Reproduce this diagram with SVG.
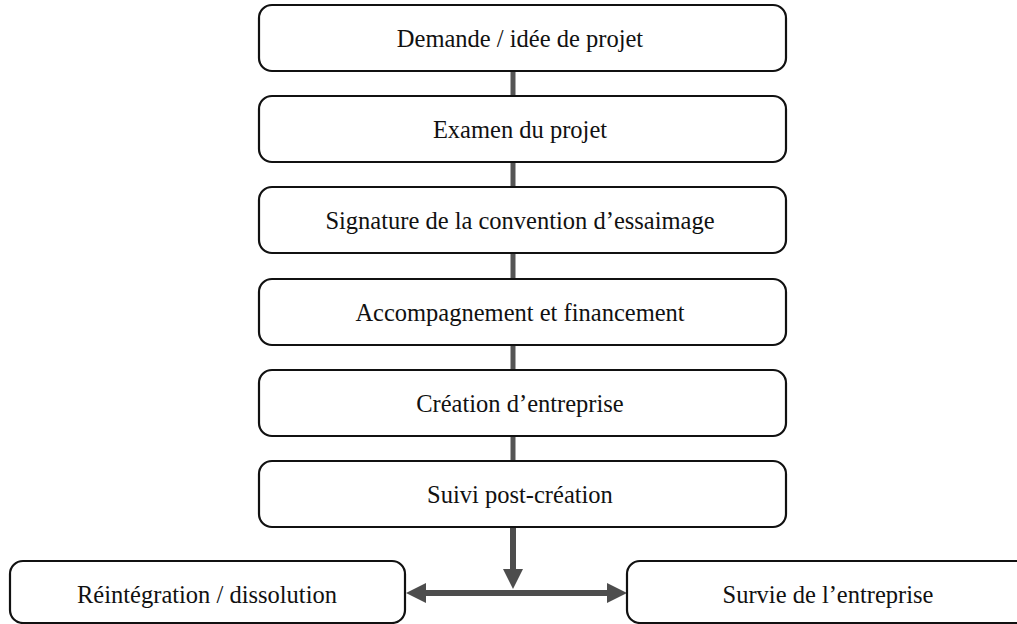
<svg xmlns="http://www.w3.org/2000/svg" width="1017" height="624" viewBox="0 0 1017 624">
  <style>
    .box { fill: #ffffff; stroke: #111111; stroke-width: 2.2; }
    .label { font-family: "Liberation Serif", "Times New Roman", serif; font-size: 24.5px; fill: #111111; text-anchor: middle; }
    .bar { stroke: #555555; stroke-width: 5; fill: none; }
    .arrow { stroke: #4d4d4d; stroke-width: 6; fill: none; }
  </style>
  <defs>
    <marker id="head" viewBox="0 0 20 20" refX="0" refY="10" markerWidth="20" markerHeight="20" markerUnits="userSpaceOnUse" orient="auto-start-reverse">
      <path d="M0,0 L20,10 L0,20 Z" fill="#4d4d4d"/>
    </marker>
  </defs>
  <rect width="1017" height="624" fill="#ffffff"/>

  <!-- connectors -->
  <g id="connectors">
    <line class="bar" x1="513" y1="71" x2="513" y2="96"/>
    <line class="bar" x1="513" y1="162" x2="513" y2="187"/>
    <line class="bar" x1="513" y1="253" x2="513" y2="279"/>
    <line class="bar" x1="513" y1="345" x2="513" y2="370"/>
    <line class="bar" x1="513" y1="436" x2="513" y2="461"/>
    <line class="arrow" x1="513" y1="527" x2="513" y2="569" marker-end="url(#head)"/>
    <line class="arrow" x1="426" y1="593" x2="607" y2="593" marker-start="url(#head)" marker-end="url(#head)"/>
  </g>

  <!-- process steps -->
  <g id="step-demande">
    <rect class="box" x="259" y="5" width="527" height="66" rx="13"/>
    <text class="label" x="520" y="47">Demande / idée de projet</text>
  </g>
  <g id="step-examen">
    <rect class="box" x="259" y="96" width="527" height="66" rx="13"/>
    <text class="label" x="520" y="138">Examen du projet</text>
  </g>
  <g id="step-signature">
    <rect class="box" x="259" y="187" width="527" height="66" rx="13"/>
    <text class="label" x="520" y="229">Signature de la convention d’essaimage</text>
  </g>
  <g id="step-accompagnement">
    <rect class="box" x="259" y="279" width="527" height="66" rx="13"/>
    <text class="label" x="520" y="321">Accompagnement et financement</text>
  </g>
  <g id="step-creation">
    <rect class="box" x="259" y="370" width="527" height="66" rx="13"/>
    <text class="label" x="520" y="412">Création d’entreprise</text>
  </g>
  <g id="step-suivi">
    <rect class="box" x="259" y="461" width="527" height="66" rx="13"/>
    <text class="label" x="520" y="503">Suivi post-création</text>
  </g>

  <!-- outcomes -->
  <g id="outcome-reintegration">
    <rect class="box" x="10" y="561" width="395" height="62" rx="13"/>
    <text class="label" x="207" y="603">Réintégration / dissolution</text>
  </g>
  <g id="outcome-survie">
    <rect class="box" x="627" y="561" width="410" height="62" rx="13"/>
    <text class="label" x="828" y="603">Survie de l’entreprise</text>
  </g>
</svg>
